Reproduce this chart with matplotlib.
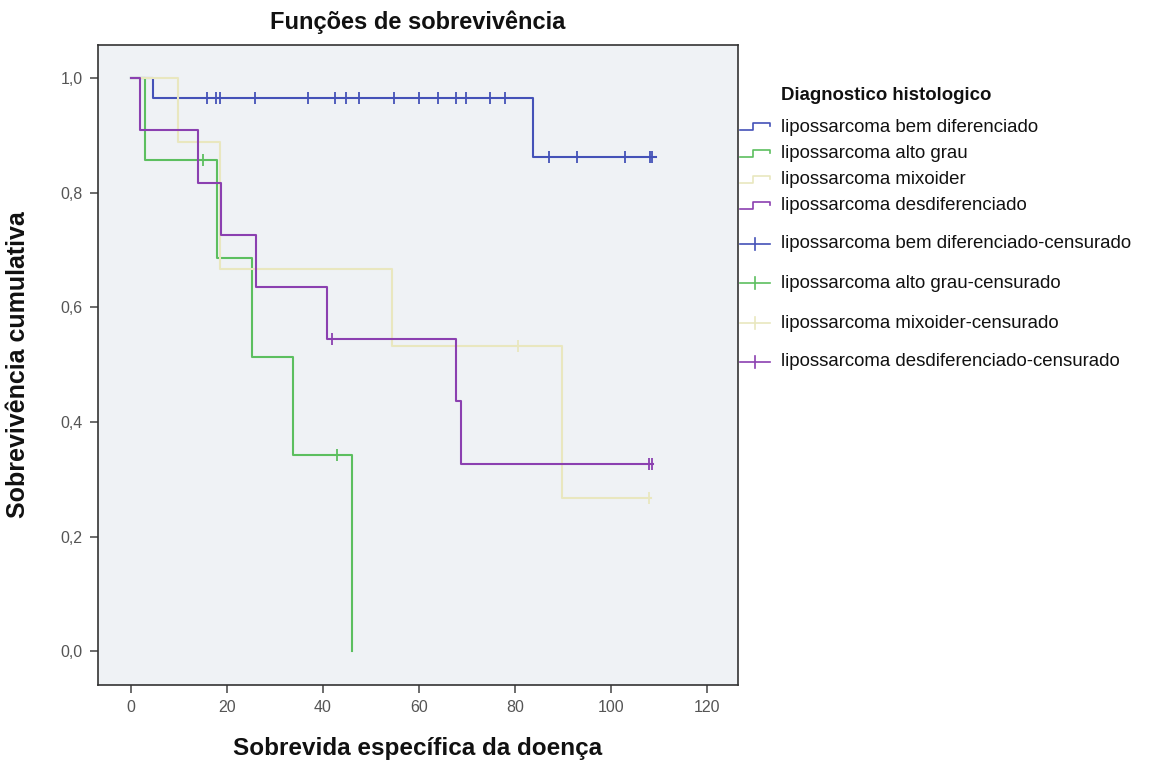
import matplotlib
matplotlib.use('Agg')
import matplotlib.pyplot as plt
from matplotlib.lines import Line2D
import numpy as np

plt.rcParams['font.family'] = ['Liberation Sans', 'DejaVu Sans']

W, H = 1149, 765

# Kaplan-Meier steps (time in months, survival)
bem_t = [0, 4.6, 83.8, 109.5]
bem_s = [1.0, 0.966, 0.862, 0.862]
bem_cens = [15.8, 17.7, 18.5, 25.8, 36.9, 42.6, 44.7, 47.6, 54.8, 60.0, 64.0,
            67.8, 69.9, 74.8, 77.9, 87.1, 92.9, 102.9, 108.1, 108.6]

alto_t = [0, 2.9, 17.8, 25.1, 33.8, 46.0]
alto_s = [1.0, 0.857, 0.686, 0.514, 0.343, 0.0]
alto_cens = [14.9, 42.9]

mix_t = [0, 9.8, 18.6, 54.3, 89.9, 108.4]
mix_s = [1.0, 0.889, 0.667, 0.533, 0.267, 0.267]
mix_cens = [80.7, 108.0]

desd_t = [0, 1.9, 13.9, 18.7, 26.0, 40.9, 67.8, 68.7, 108.8]
desd_s = [1.0, 0.909, 0.818, 0.727, 0.636, 0.545, 0.436, 0.327, 0.327]
desd_cens = [41.8, 108.0, 108.5]

groups = ['lipossarcoma bem diferenciado', 'lipossarcoma alto grau',
          'lipossarcoma mixoider', 'lipossarcoma desdiferenciado']
colors = ['#4452b8', '#5cbf5f', '#e9e7bf', '#8b40b0']

x_ticks = [0, 20, 40, 60, 80, 100, 120]
y_ticks = [0.0, 0.2, 0.4, 0.6, 0.8, 1.0]

series = [(bem_t, bem_s, bem_cens), (alto_t, alto_s, alto_cens),
          (mix_t, mix_s, mix_cens), (desd_t, desd_s, desd_cens)]


def surv_at(t, s, c):
    idx = np.searchsorted(t, c, side='right') - 1
    return np.asarray(s)[idx]


fig = plt.figure(figsize=(W / 100, H / 100), dpi=100)
fig.patch.set_facecolor('white')
ax = fig.add_axes([98 / W, 1 - 685 / H, 640 / W, 640 / H])
ax.set_facecolor('#eff2f5')

draw_order = [2, 0, 1, 3]
for i in draw_order:
    t, s, c = series[i]
    ax.step(t, s, where='post', color=colors[i], lw=1.5, zorder=2 + i)
    ax.plot(c, surv_at(t, s, c), ls='none', marker='|', ms=9, mew=1.3,
            color=colors[i], zorder=2 + i)

ax.set_xlim(-6.9, 126.5)
ax.set_ylim(-0.059, 1.058)
ax.set_xticks(x_ticks)
ax.set_yticks(y_ticks)
ax.set_xticklabels([str(v) for v in x_ticks])
ax.set_yticklabels([f'{v:.1f}'.replace('.', ',') for v in y_ticks])
ax.tick_params(direction='out', length=6, width=1.1, colors='#444444',
               labelcolor='#555555', labelsize=11.5, pad=5)
for sp in ax.spines.values():
    sp.set_color('#333333')
    sp.set_linewidth(1.2)

fig.text(418 / W, 1 - 22 / H, 'Funções de sobrevivência', ha='center',
         va='center', fontsize=17, fontweight='bold', color='#111111')
fig.text(418 / W, 1 - 748 / H, 'Sobrevida específica da doença', ha='center',
         va='center', fontsize=17.5, fontweight='bold', color='#111111')
fig.text(18 / W, 1 - 365 / H, 'Sobrevivência cumulativa', ha='center',
         va='center', rotation=90, fontsize=18, fontweight='bold',
         color='#111111')

# legend drawn by hand, to get the SPSS step glyphs
def fx(px):
    return px / W


def fy(py):
    return 1 - py / H


fig.text(fx(781), fy(96), 'Diagnostico histologico', ha='left', va='center',
         fontsize=13.4, fontweight='bold', color='#111111')

step_rows = [127, 154, 180, 206]
cens_rows = [244, 283, 323, 362]
for i, name in enumerate(groups):
    y = step_rows[i]
    gx = [740, 753, 753, 770, 770]
    gy = [y + 3, y + 3, y - 4, y - 4, y - 1]
    fig.add_artist(Line2D([fx(v) for v in gx], [fy(v) for v in gy],
                          transform=fig.transFigure, color=colors[i], lw=1.2))
    fig.text(fx(781), fy(y), name, ha='left', va='center', fontsize=13.4,
             color='#111111')

    y = cens_rows[i]
    fig.add_artist(Line2D([fx(740), fx(770)], [fy(y), fy(y)],
                          transform=fig.transFigure, color=colors[i], lw=1.2))
    fig.add_artist(Line2D([fx(755), fx(755)], [fy(y - 6), fy(y + 6)],
                          transform=fig.transFigure, color=colors[i], lw=1.2))
    fig.text(fx(781), fy(y), name + '-censurado', ha='left', va='center',
             fontsize=13.4, color='#111111')

fig.savefig('out.png', dpi=100, facecolor='white')
